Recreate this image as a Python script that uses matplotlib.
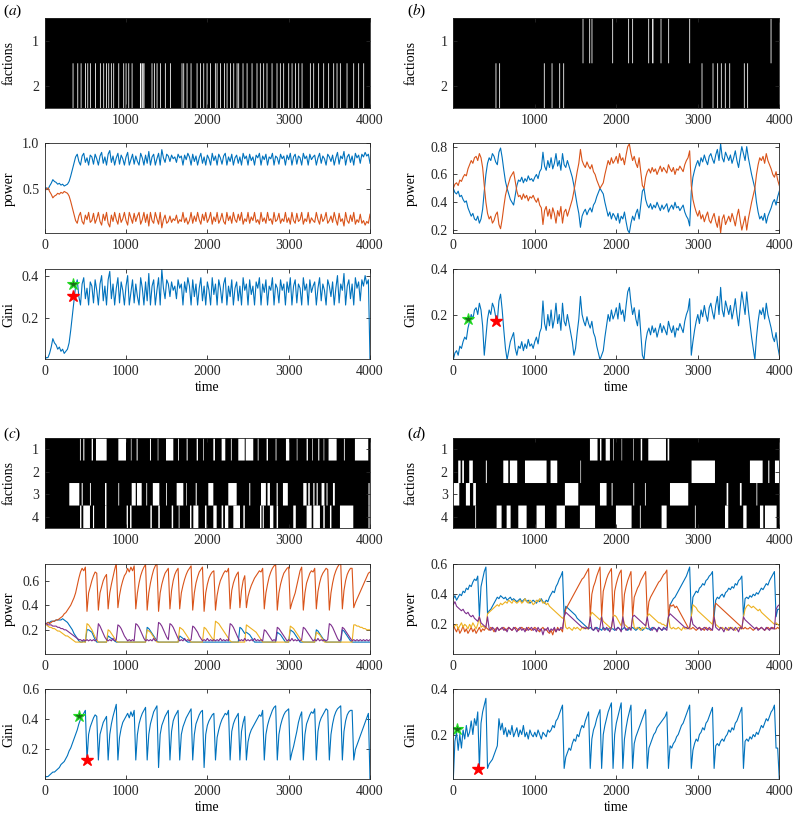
import numpy as np
import matplotlib
matplotlib.use('Agg')
import matplotlib.pyplot as plt
from matplotlib.ticker import FormatStrFormatter

plt.rcParams['font.family'] = ['Liberation Serif', 'DejaVu Serif']
plt.rcParams['mathtext.fontset'] = 'stix'
plt.rcParams['font.size'] = 10

C_BLUE = '#0072BD'
C_ORANGE = '#D95319'
C_YELLOW = '#EDB120'
C_PURPLE = '#7E2F8E'
EDGE = '#262626'

# ---------------------------------------------------------------- data
STEP = 20
time = np.arange(0, 4001, STEP)

# ---- panel (a): two factions (orange share = 1 - blue share)
power_a_blue = [
    .50, .51, .49, .53, .56, .60, .58, .57, .55, .56,
    .54, .55, .53, .54, .55, .58, .64, .71, .78, .85,
    .88, .80, .76, .86, .89, .79, .84, .76, .87, .85,
    .77, .88, .83, .76, .86, .90, .78, .85, .76, .88,
    .92, .79, .86, .76, .84, .89, .77, .87, .83, .76,
    .85, .90, .76, .82, .88, .77, .86, .80, .76, .89,
    .84, .76, .87, .78, .91, .76, .85, .88, .76, .83,
    .89, .76, .93, .84, .79, .88, .86, .80, .87, .83,
    .85, .79, .88, .84, .86, .76, .87, .82, .89, .85,
    .76, .88, .80, .86, .76, .84, .89, .78, .85, .76,
    .87, .83, .76, .89, .81, .86, .76, .88, .84, .77,
    .86, .89, .76, .85, .80, .88, .76, .84, .87, .78,
    .85, .76, .89, .83, .86, .76, .88, .81, .85, .76,
    .87, .84, .89, .76, .86, .82, .88, .76, .85, .83,
    .89, .76, .86, .84, .77, .88, .83, .86, .76, .87,
    .82, .89, .76, .85, .88, .77, .86, .84, .76, .89,
    .83, .86, .76, .88, .82, .85, .87, .76, .84, .89,
    .78, .86, .83, .76, .88, .85, .80, .87, .76, .84,
    .90, .77, .86, .83, .91, .76, .85, .88, .79, .86,
    .76, .89, .84, .87, .78, .88, .85, .90, .86, .88,
    .78]
GINI_A_LAST = 0.0
stars_a = {'green': (344, 0.359), 'red': (344, 0.305)}

# ---- panel (b): two factions
power_b_blue = [
    .50, .47, .46, .48, .44, .45, .42, .40, .41, .36,
    .33, .30, .32, .28, .27, .30, .25, .28, .35, .48,
    .60, .68, .72, .70, .75, .73, .69, .67, .76, .79,
    .72, .63, .55, .50, .46, .42, .40, .38, .45, .52,
    .56, .55, .58, .54, .57, .55, .59, .56, .57, .55,
    .58, .60, .57, .62, .64, .76, .66, .63, .70, .65,
    .72, .64, .68, .75, .66, .70, .63, .75, .67, .65,
    .70, .66, .62, .58, .52, .45, .38, .32, .22, .30,
    .33, .35, .31, .34, .36, .33, .38, .40, .44, .47,
    .50, .48, .46, .40, .35, .30, .33, .28, .32, .30,
    .27, .32, .25, .30, .28, .33, .26, .20, .18, .25,
    .30, .27, .32, .35, .28, .38, .48, .50, .42, .38,
    .36, .39, .35, .38, .36, .40, .37, .34, .38, .35,
    .37, .39, .33, .36, .38, .35, .40, .36, .37, .34,
    .36, .38, .33, .30, .28, .23, .48, .58, .63, .67,
    .70, .66, .72, .69, .74, .70, .67, .73, .75, .71,
    .68, .74, .78, .70, .82, .72, .69, .76, .73, .70,
    .74, .68, .72, .77, .70, .65, .73, .80, .75, .70,
    .80, .72, .66, .60, .55, .50, .40, .33, .28, .30,
    .27, .32, .25, .30, .33, .36, .40, .42, .38, .44,
    .48]
stars_b = {'green': (184, 0.179), 'red': (524, 0.172)}

# ---- panel (c): four factions
power_c_blue = [
    .25, .25, .26, .26, .27, .27, .27, .28, .28, .28,
    .28, .29, .28, .27, .26, .24, .22, .20, .17, .15,
    .13, .11, .10, .10, .11, .10, .20, .20, .19, .18,
    .15, .12, .10, .10, .10, .10, .10, .10, .10, .15,
    .14, .13, .12, .11, .10, .10, .10, .10, .10, .10,
    .10, .10, .10, .10, .10, .10, .10, .10, .10, .10,
    .10, .10, .10, .22, .21, .19, .17, .15, .13, .11,
    .10, .10, .10, .10, .10, .10, .10, .10, .10, .10,
    .10, .10, .10, .15, .14, .13, .12, .11, .10, .10,
    .10, .10, .10, .10, .10, .10, .10, .10, .10, .10,
    .10, .10, .10, .10, .10, .10, .10, .10, .10, .10,
    .10, .10, .10, .10, .10, .10, .10, .10, .10, .10,
    .22, .21, .19, .17, .18, .17, .16, .14, .12, .10,
    .10, .10, .10, .10, .10, .10, .10, .10, .10, .10,
    .10, .10, .10, .18, .17, .16, .14, .12, .10, .10,
    .10, .20, .19, .18, .16, .14, .12, .10, .10, .10,
    .10, .10, .10, .10, .10, .10, .10, .20, .19, .17,
    .15, .13, .11, .10, .10, .10, .10, .10, .10, .10,
    .10, .10, .10, .20, .19, .17, .15, .13, .11, .10,
    .10, .10, .10, .10, .10, .10, .10, .10, .10, .10, .10]
power_c_orange = [
    .25, .25, .26, .25, .26, .27, .27, .28, .28, .29,
    .30, .31, .33, .34, .36, .38, .40, .43, .46, .50,
    .56, .62, .67, .70, .68, .71, .35, .50, .55, .60,
    .64, .67, .66, .36, .50, .55, .60, .63, .65, .37,
    .50, .57, .63, .69, .74, .38, .48, .55, .60, .64,
    .66, .70, .67, .71, .68, .72, .37, .50, .58, .64,
    .68, .71, .73, .36, .50, .58, .64, .69, .72, .74,
    .35, .50, .57, .62, .66, .68, .70, .37, .52, .60,
    .65, .68, .70, .37, .50, .56, .61, .65, .68, .70,
    .72, .36, .50, .58, .63, .67, .69, .71, .35, .50,
    .57, .62, .65, .67, .68, .36, .48, .55, .60, .63,
    .66, .68, .67, .70, .37, .52, .58, .62, .65, .67,
    .38, .52, .60, .64, .38, .47, .52, .56, .59, .62,
    .64, .66, .68, .67, .70, .37, .50, .57, .63, .67,
    .70, .72, .73, .36, .50, .57, .62, .66, .68, .70,
    .71, .37, .42, .46, .50, .56, .62, .68, .71, .36,
    .50, .58, .62, .66, .68, .67, .70, .37, .51, .58,
    .63, .66, .68, .70, .69, .36, .50, .58, .64, .68,
    .71, .73, .74, .37, .52, .60, .65, .68, .70, .70,
    .38, .42, .45, .48, .51, .54, .57, .60, .63, .66, .67]
power_c_yellow = [
    .25, .24, .23, .22, .22, .21, .21, .20, .19, .19,
    .18, .17, .16, .15, .15, .14, .13, .12, .11, .10,
    .10, .10, .10, .10, .10, .10, .25, .24, .22, .20,
    .17, .14, .12, .10, .10, .10, .10, .10, .10, .20,
    .19, .17, .15, .13, .11, .10, .10, .10, .10, .10,
    .10, .10, .10, .10, .10, .10, .10, .10, .10, .10,
    .10, .10, .10, .20, .19, .18, .16, .14, .12, .10,
    .10, .10, .10, .10, .10, .10, .10, .10, .10, .10,
    .10, .10, .10, .22, .21, .20, .18, .16, .14, .12,
    .10, .10, .10, .10, .10, .10, .10, .10, .22, .21,
    .19, .17, .15, .13, .11, .27, .26, .25, .23, .21,
    .19, .17, .15, .13, .11, .10, .10, .10, .10, .10,
    .10, .10, .10, .10, .24, .23, .22, .21, .20, .19,
    .18, .16, .14, .12, .10, .10, .10, .10, .10, .10,
    .10, .10, .10, .10, .10, .10, .10, .10, .10, .10,
    .10, .23, .22, .21, .19, .17, .15, .13, .11, .10,
    .10, .10, .10, .10, .10, .10, .10, .18, .17, .16,
    .14, .12, .10, .10, .10, .10, .10, .10, .10, .10,
    .10, .10, .10, .10, .10, .10, .10, .10, .10, .10,
    .24, .24, .23, .23, .22, .22, .21, .21, .20, .20, .20]
power_c_purple = [
    .25, .25, .24, .24, .24, .23, .23, .23, .22, .22,
    .21, .21, .20, .20, .19, .18, .17, .16, .15, .14,
    .13, .12, .12, .11, .12, .11, .12, .11, .12, .11,
    .12, .11, .12, .25, .23, .20, .17, .14, .12, .11,
    .12, .11, .13, .11, .12, .24, .23, .21, .18, .15,
    .13, .11, .12, .11, .12, .11, .25, .24, .22, .19,
    .16, .13, .11, .12, .11, .12, .11, .13, .11, .12,
    .26, .25, .23, .20, .17, .14, .12, .25, .24, .22,
    .19, .16, .13, .11, .12, .11, .13, .11, .12, .11,
    .12, .23, .22, .20, .18, .15, .13, .11, .12, .11,
    .13, .11, .12, .11, .12, .11, .12, .11, .13, .11,
    .12, .11, .12, .11, .25, .24, .22, .19, .16, .13,
    .11, .12, .11, .13, .11, .12, .11, .12, .11, .13,
    .11, .12, .11, .12, .11, .20, .19, .17, .15, .13,
    .11, .12, .11, .22, .21, .19, .17, .15, .13, .11,
    .12, .11, .13, .11, .12, .11, .12, .11, .12, .22,
    .21, .19, .17, .15, .13, .11, .12, .11, .13, .11,
    .12, .11, .12, .11, .12, .25, .24, .22, .19, .16,
    .13, .11, .12, .22, .21, .19, .17, .15, .13, .11,
    .12, .11, .12, .11, .12, .11, .12, .11, .12, .11, .12]
gini_c = [
    .01, .02, .02, .03, .04, .05, .05, .06, .07, .08,
    .10, .11, .12, .14, .16, .19, .21, .24, .27, .30,
    .33, .37, .40, .42, .44, .46, .13, .30, .35, .38,
    .41, .43, .42, .13, .30, .34, .38, .40, .42, .13,
    .30, .37, .42, .46, .50, .13, .28, .34, .38, .40,
    .42, .44, .41, .45, .42, .46, .13, .30, .37, .41,
    .44, .46, .48, .13, .30, .37, .41, .45, .47, .49,
    .08, .30, .36, .39, .42, .44, .46, .13, .32, .39,
    .42, .44, .46, .13, .30, .35, .38, .41, .43, .45,
    .47, .13, .30, .37, .40, .43, .45, .46, .08, .30,
    .36, .39, .41, .43, .44, .13, .28, .33, .37, .40,
    .42, .44, .43, .46, .13, .32, .37, .40, .42, .44,
    .13, .32, .38, .42, .13, .25, .30, .33, .35, .37,
    .39, .41, .43, .42, .46, .13, .30, .36, .40, .43,
    .46, .48, .49, .13, .30, .36, .40, .43, .45, .46,
    .47, .13, .18, .22, .27, .32, .38, .42, .45, .13,
    .30, .37, .40, .43, .45, .44, .47, .13, .32, .38,
    .41, .43, .45, .47, .46, .13, .30, .37, .42, .45,
    .47, .48, .49, .13, .32, .39, .43, .45, .46, .46,
    .13, .20, .23, .26, .29, .32, .35, .38, .41, .44, .00]
stars_c = {'green': (418, 0.42), 'red': (516, 0.133)}

# ---- panel (d): four factions
power_d_blue = [
    .37, .39, .36, .38, .40, .39, .42, .41, .44, .43,
    .46, .45, .48, .50, .49, .52, .25, .45, .50, .55,
    .58, .27, .29, .30, .32, .34, .36, .38, .37, .39,
    .38, .37, .38, .36, .37, .38, .36, .37, .36, .35,
    .36, .37, .35, .36, .37, .35, .36, .34, .35, .36,
    .35, .34, .36, .35, .37, .35, .34, .36, .35, .38,
    .40, .42, .41, .45, .47, .50, .52, .55, .25, .32,
    .31, .30, .29, .28, .27, .26, .24, .23, .22, .21,
    .20, .19, .18, .17, .18, .17, .16, .17, .18, .17,
    .17, .16, .18, .17, .17, .16, .18, .17, .17, .16,
    .17, .18, .17, .16, .17, .18, .17, .16, .17, .17,
    .18, .17, .16, .17, .18, .17, .16, .17, .18, .17,
    .17, .16, .18, .17, .17, .16, .18, .17, .16, .17,
    .17, .18, .25, .33, .35, .37, .38, .40, .42, .44,
    .46, .48, .50, .52, .55, .58, .25, .38, .40, .42,
    .41, .44, .45, .47, .46, .49, .50, .52, .53, .55,
    .25, .36, .38, .37, .39, .40, .38, .41, .42, .44,
    .43, .45, .44, .47, .46, .49, .50, .52, .25, .37,
    .38, .37, .39, .38, .40, .39, .41, .40, .42, .44,
    .43, .45, .47, .46, .49, .51, .53, .55, .25, .30, .30]
power_d_orange = [
    .20, .17, .15, .18, .14, .16, .19, .15, .17, .14,
    .16, .18, .15, .17, .14, .16, .18, .15, .17, .16,
    .18, .17, .16, .18, .17, .15, .17, .18, .16, .17,
    .17, .18, .16, .17, .18, .17, .16, .17, .18, .17,
    .16, .17, .18, .17, .17, .16, .18, .17, .16, .17,
    .18, .17, .16, .15, .17, .18, .16, .17, .15, .14,
    .16, .13, .17, .15, .18, .16, .17, .15, .25, .30,
    .32, .34, .36, .38, .40, .42, .44, .46, .48, .50,
    .51, .53, .55, .57, .25, .40, .45, .48, .52, .55,
    .58, .25, .42, .46, .50, .53, .55, .57, .25, .42,
    .47, .51, .54, .56, .25, .40, .45, .49, .52, .55,
    .25, .38, .41, .44, .46, .49, .51, .53, .55, .25,
    .35, .38, .40, .42, .44, .46, .48, .49, .51, .53,
    .54, .56, .25, .33, .32, .33, .31, .32, .30, .28,
    .26, .24, .22, .20, .18, .17, .17, .18, .17, .16,
    .17, .18, .17, .17, .16, .18, .17, .17, .16, .17,
    .30, .34, .33, .32, .31, .30, .29, .28, .27, .26,
    .25, .24, .23, .22, .21, .20, .19, .18, .17, .18,
    .17, .17, .18, .17, .16, .17, .18, .17, .17, .18,
    .17, .16, .17, .18, .17, .17, .18, .17, .17, .18, .17]
power_d_yellow = [
    .18, .19, .20, .17, .19, .21, .18, .20, .19, .17,
    .20, .18, .21, .19, .17, .20, .25, .18, .19, .18,
    .18, .27, .28, .29, .30, .31, .32, .33, .32, .34,
    .33, .34, .35, .34, .36, .35, .34, .36, .35, .34,
    .35, .36, .34, .35, .37, .35, .34, .36, .35, .33,
    .34, .36, .35, .37, .36, .34, .35, .33, .34, .32,
    .31, .30, .29, .28, .27, .26, .25, .24, .25, .18,
    .17, .18, .17, .16, .18, .17, .18, .17, .16, .18,
    .17, .18, .17, .17, .25, .28, .27, .26, .25, .24,
    .23, .25, .22, .21, .20, .19, .18, .17, .25, .26,
    .25, .23, .21, .19, .25, .20, .19, .18, .17, .17,
    .25, .18, .17, .18, .17, .16, .18, .17, .18, .25,
    .27, .26, .25, .24, .23, .22, .21, .21, .20, .20,
    .19, .19, .25, .18, .17, .18, .17, .17, .18, .17,
    .16, .18, .17, .17, .18, .17, .25, .33, .32, .31,
    .29, .28, .27, .26, .25, .24, .23, .22, .21, .20,
    .25, .20, .19, .18, .17, .18, .17, .17, .16, .18,
    .17, .18, .17, .16, .17, .18, .17, .17, .25, .30,
    .32, .33, .32, .31, .32, .31, .30, .29, .30, .28,
    .27, .26, .25, .24, .23, .22, .21, .20, .21, .20, .19]
power_d_purple = [
    .33, .35, .32, .31, .30, .29, .30, .28, .27, .28,
    .26, .25, .26, .24, .23, .22, .25, .21, .20, .19,
    .18, .25, .17, .16, .18, .17, .15, .18, .16, .17,
    .18, .16, .17, .15, .18, .17, .16, .18, .17, .15,
    .17, .18, .16, .17, .15, .18, .16, .17, .18, .16,
    .17, .15, .18, .16, .17, .13, .17, .16, .18, .15,
    .17, .16, .18, .15, .17, .16, .18, .17, .25, .28,
    .27, .26, .25, .24, .23, .22, .21, .20, .19, .18,
    .18, .17, .18, .17, .25, .17, .16, .18, .17, .15,
    .18, .25, .17, .16, .18, .17, .15, .18, .25, .17,
    .16, .18, .17, .15, .25, .18, .16, .17, .18, .16,
    .25, .26, .25, .24, .23, .22, .21, .20, .19, .25,
    .18, .17, .16, .18, .17, .15, .18, .17, .16, .18,
    .17, .16, .25, .27, .26, .25, .24, .23, .22, .21,
    .20, .19, .18, .18, .17, .18, .25, .20, .19, .18,
    .17, .18, .16, .17, .18, .17, .16, .18, .17, .16,
    .25, .18, .17, .16, .18, .17, .15, .18, .17, .16,
    .18, .17, .16, .18, .17, .15, .18, .17, .25, .23,
    .22, .21, .20, .19, .18, .17, .18, .16, .17, .18,
    .17, .16, .18, .17, .16, .18, .17, .17, .30, .32, .33]
gini_d = [
    .00, .17, .21, .13, .20, .14, .22, .18, .24, .19,
    .21, .26, .20, .27, .24, .30, .05, .25, .30, .33,
    .36, .05, .07, .08, .09, .11, .13, .15, .27, .22,
    .25, .20, .23, .19, .22, .20, .24, .19, .21, .23,
    .19, .22, .20, .24, .19, .21, .18, .22, .20, .19,
    .21, .19, .22, .20, .18, .21, .20, .19, .22, .21,
    .22, .24, .23, .26, .27, .29, .31, .33, .05, .10,
    .12, .14, .13, .16, .18, .17, .20, .19, .22, .24,
    .23, .26, .28, .30, .05, .18, .22, .24, .27, .29,
    .31, .05, .20, .24, .27, .30, .32, .34, .05, .20,
    .25, .28, .31, .34, .05, .18, .23, .27, .30, .33,
    .05, .16, .19, .21, .23, .25, .27, .29, .31, .05,
    .14, .16, .18, .20, .21, .23, .24, .25, .26, .27,
    .28, .30, .05, .15, .14, .16, .17, .19, .20, .22,
    .24, .25, .27, .29, .31, .33, .05, .13, .16, .18,
    .17, .20, .21, .23, .22, .25, .26, .28, .30, .32,
    .05, .15, .16, .15, .17, .18, .17, .19, .20, .22,
    .21, .23, .22, .25, .26, .28, .30, .32, .05, .17,
    .18, .17, .19, .18, .20, .19, .21, .20, .22, .24,
    .23, .25, .27, .26, .28, .30, .31, .33, .14, .14, .00]
stars_d = {'green': (41, 0.225), 'red': (307, 0.049)}

# ---- faction rasters: white (inactive) periods per faction, (start, end) in time steps
factions_a = [
    [],
    [(344, 354), (402, 412), (443, 453), (496, 506), (525, 535), (557, 567), (619, 629),
     (680, 690), (721, 731), (754, 764), (783, 793), (815, 825), (844, 854), (906, 916),
     (967, 977), (996, 1006), (1029, 1039), (1070, 1080), (1172, 1186), (1193, 1207),
     (1213, 1227), (1315, 1325), (1344, 1354), (1377, 1387), (1418, 1428), (1479, 1489),
     (1541, 1551), (1684, 1694), (1705, 1715), (1746, 1756), (1795, 1805), (1869, 1879),
     (1910, 1920), (1951, 1961), (1992, 2002), (2033, 2043), (2094, 2104), (2115, 2125),
     (2156, 2166), (2205, 2215), (2238, 2248), (2279, 2289), (2320, 2330), (2361, 2371),
     (2381, 2391), (2434, 2444), (2484, 2494), (2545, 2555), (2606, 2616), (2647, 2657),
     (2688, 2698), (2729, 2739), (2791, 2801), (2852, 2862), (2893, 2903), (2934, 2944),
     (2996, 3006), (3037, 3047), (3078, 3088), (3119, 3129), (3160, 3170), (3262, 3272),
     (3303, 3313), (3364, 3374), (3426, 3436), (3487, 3497), (3549, 3559), (3590, 3600),
     (3631, 3641), (3713, 3723), (3795, 3805), (3856, 3866), (3918, 3928)],
]
factions_b = [
    [(1587, 1597), (1669, 1679), (1697, 1707), (1951, 1961), (2147, 2157), (2196, 2206),
     (2393, 2403), (2440, 2456), (2544, 2554), (2638, 2648), (2896, 2906), (3894, 3904)],
    [(519, 529), (564, 574), (1112, 1122), (1207, 1217), (1301, 1311), (1350, 1360),
     (3047, 3057), (3182, 3192), (3239, 3249), (3284, 3294), (3333, 3343), (3387, 3397),
     (3566, 3576), (3607, 3617)],
]
factions_c = [
    [(434, 444), (475, 488), (578, 594), (631, 762), (906, 1000), (1060, 1068), (1131, 1143),
     (1295, 1307), (1390, 1398), (1492, 1582), (1640, 1650), (1746, 1758), (1869, 1885),
     (1950, 1958), (2074, 2094), (2176, 2221), (2290, 2300), (2381, 2460), (2472, 2565),
     (2620, 2630), (2729, 2746), (2840, 2850), (2967, 3008), (3100, 3108), (3221, 3237),
     (3290, 3298), (3364, 3377), (3430, 3438), (3491, 3590), (3680, 3690), (3815, 3979)],
    [],
    [(303, 426), (455, 468), (557, 568), (742, 760), (906, 916), (1070, 1120), (1135, 1193),
     (1250, 1260), (1330, 1410), (1492, 1502), (1623, 1705), (1742, 1750), (1857, 1870),
     (2012, 2074), (2258, 2361), (2516, 2528), (2660, 2720), (2740, 2770), (2852, 2866),
     (2930, 2990), (3180, 3221), (3241, 3260), (3303, 3318), (3344, 3358), (3405, 3440),
     (3466, 3478), (3545, 3568), (3982, 3995)],
    [(435, 452), (475, 557), (594, 608), (742, 760), (1008, 1024), (1050, 1068), (1300, 1318),
     (1397, 1416), (1562, 1580), (1648, 1658), (1787, 1805), (1828, 1890), (1971, 1990),
     (2074, 2115), (2176, 2195), (2217, 2258), (2320, 2402), (2443, 2461), (2648, 2666),
     (2681, 2695), (2770, 2812), (2852, 2870), (3057, 3088), (3221, 3283), (3303, 3385),
     (3426, 3444), (3508, 3526), (3631, 3795), (3982, 3995)],
]
factions_d = [
    [(1677, 1770), (1800, 1818), (1870, 1922), (1963, 1970), (2065, 2072), (2209, 2216),
     (2300, 2318), (2393, 2610), (2630, 2650)],
    [(61, 90), (110, 131), (196, 240), (400, 412), (614, 675), (695, 785), (880, 1145),
     (1194, 1276), (1560, 1568), (2924, 3211), (3640, 3796), (3865, 3878), (3947, 4000)],
    [(0, 74), (155, 205), (245, 278), (1370, 1534), (1800, 1881), (1943, 1955), (2209, 2220),
     (2352, 2362), (2659, 2883), (3354, 3374), (3517, 3538), (3720, 3730)],
    [(270, 280), (532, 593), (655, 704), (798, 900), (1022, 1125), (1268, 1370), (1554, 1740),
     (1996, 2188), (2290, 2300), (2556, 2618), (2965, 2975), (3334, 3374), (3558, 3599),
     (3763, 3804), (3824, 3967)],
]

N_STEPS = 4000
x_ticks_raster = [1000, 2000, 3000, 4000]
x_ticks = [0, 1000, 2000, 3000, 4000]

# ---------------------------------------------------------------- derived
def arr(a):
    a = np.asarray(a, dtype=float)
    n = min(len(a), len(time))
    return time[:n], a[:n]

pa_blue = np.asarray(power_a_blue, float)
pa_orange = 1.0 - pa_blue
gini_a = np.abs(pa_blue - pa_orange) / 2.0
gini_a[-1] = GINI_A_LAST

pb_blue = np.asarray(power_b_blue, float)
pb_orange = 1.0 - pb_blue
gini_b = np.abs(pb_blue - pb_orange) / 2.0

# ---------------------------------------------------------------- layout
fig = plt.figure(figsize=(7.94, 8.16), dpi=100)

COL_X = [0.0563, 0.5709]
COL_W = [0.4097, 0.4106]
H = 0.1103
ROWS_TOP = [0.8673, 0.7141, 0.5597]
ROWS_BOT = [0.3529, 0.1985, 0.0450]


def style(ax):
    for s in ax.spines.values():
        s.set_color(EDGE)
        s.set_linewidth(0.6)
    ax.tick_params(direction='in', length=3, width=0.6, top=True, right=True,
                   colors=EDGE, labelsize=10, pad=4)


def panel(col, rows_b, fac_rows, powers, gini, stars, p_ylim, p_ticks, p_fmt,
          g_ylim, g_ticks, label, label_pos, ylab_x):
    x0, w = COL_X[col], COL_W[col]
    # raster: black background, white inactive periods
    ax = fig.add_axes([x0, rows_b[0], w, H])
    ax.set_facecolor('black')
    nr = len(fac_rows)
    for r, ints in enumerate(fac_rows):
        if ints:
            bars = ax.broken_barh([(s, e - s) for s, e in ints], (r + 0.5, 1.0),
                                  facecolors='white', edgecolor='none', linewidth=0,
                                  antialiased=True)
            bars.set_snap(False)
    ax.set_xlim(0.5, N_STEPS + 0.5)
    ax.set_ylim(nr + 0.5, 0.5)
    ax.set_xticks(x_ticks_raster)
    ax.set_yticks(list(range(1, nr + 1)))
    ax.set_ylabel('factions', fontsize=10)
    ax.yaxis.set_label_coords(ylab_x, 0.5)
    style(ax)
    # power
    ax = fig.add_axes([x0, rows_b[1], w, H])
    for series, c in powers:
        t, v = arr(series)
        ax.plot(t, v, color=c, lw=0.8)
    ax.set_xlim(0, N_STEPS)
    ax.set_ylim(*p_ylim)
    ax.set_xticks(x_ticks)
    ax.set_yticks(p_ticks)
    ax.yaxis.set_major_formatter(FormatStrFormatter(p_fmt))
    ax.set_ylabel('power', fontsize=10)
    ax.yaxis.set_label_coords(ylab_x, 0.5)
    style(ax)
    # gini
    ax = fig.add_axes([x0, rows_b[2], w, H])
    t, v = arr(gini)
    ax.plot(t, v, color=C_BLUE, lw=0.8)
    gx, gy = stars['green']
    rx, ry = stars['red']
    ax.plot([rx], [ry], marker='*', ms=9, mfc='#ff0000', mec='#ff0000', ls='none')
    ax.plot([gx], [gy], marker='*', ms=9, mfc='#1a6e1a', mec='#22dd22', mew=0.8, ls='none')
    ax.set_xlim(0, N_STEPS)
    ax.set_ylim(*g_ylim)
    ax.set_xticks(x_ticks)
    ax.set_yticks(g_ticks)
    ax.yaxis.set_major_formatter(FormatStrFormatter('%.1f'))
    ax.set_ylabel('Gini', fontsize=10)
    ax.yaxis.set_label_coords(ylab_x, 0.5)
    ax.set_xlabel('time', fontsize=10, labelpad=2)
    style(ax)
    fig.text(label_pos[0], label_pos[1], label, fontsize=11, ha='left', va='center')


panel(0, ROWS_TOP, factions_a,
      [(pa_blue, C_BLUE), (pa_orange, C_ORANGE)], gini_a, stars_a,
      (0.01, 1.0), [0.5, 1.0], '%.1f', (0.002, 0.43), [0.2, 0.4],
      r'($\it{a}$)', (0.004, 1 - 11 / 816), -0.09)
panel(1, ROWS_TOP, factions_b,
      [(pb_blue, C_BLUE), (pb_orange, C_ORANGE)], gini_b, stars_b,
      (0.177, 0.824), [0.2, 0.4, 0.6, 0.8], '%.1f', (0.002, 0.40), [0.2, 0.4],
      r'($\it{b}$)', (0.513, 1 - 11 / 816), -0.11)
panel(0, ROWS_BOT, factions_c,
      [(power_c_blue, C_BLUE), (power_c_orange, C_ORANGE),
       (power_c_yellow, C_YELLOW), (power_c_purple, C_PURPLE)], gini_c, stars_c,
      (0.003, 0.735), [0.2, 0.4, 0.6], '%.1f', (0.002, 0.60), [0.2, 0.4, 0.6],
      r'($\it{c}$)', (0.004, 1 - 434 / 816), -0.09)
panel(1, ROWS_BOT, factions_d,
      [(power_d_blue, C_BLUE), (power_d_orange, C_ORANGE),
       (power_d_yellow, C_YELLOW), (power_d_purple, C_PURPLE)], gini_d, stars_d,
      (0.003, 0.60), [0.2, 0.4, 0.6], '%.1f', (0.002, 0.40), [0.2, 0.4],
      r'($\it{d}$)', (0.513, 1 - 434 / 816), -0.11)

fig.savefig('out.png', dpi=100)
